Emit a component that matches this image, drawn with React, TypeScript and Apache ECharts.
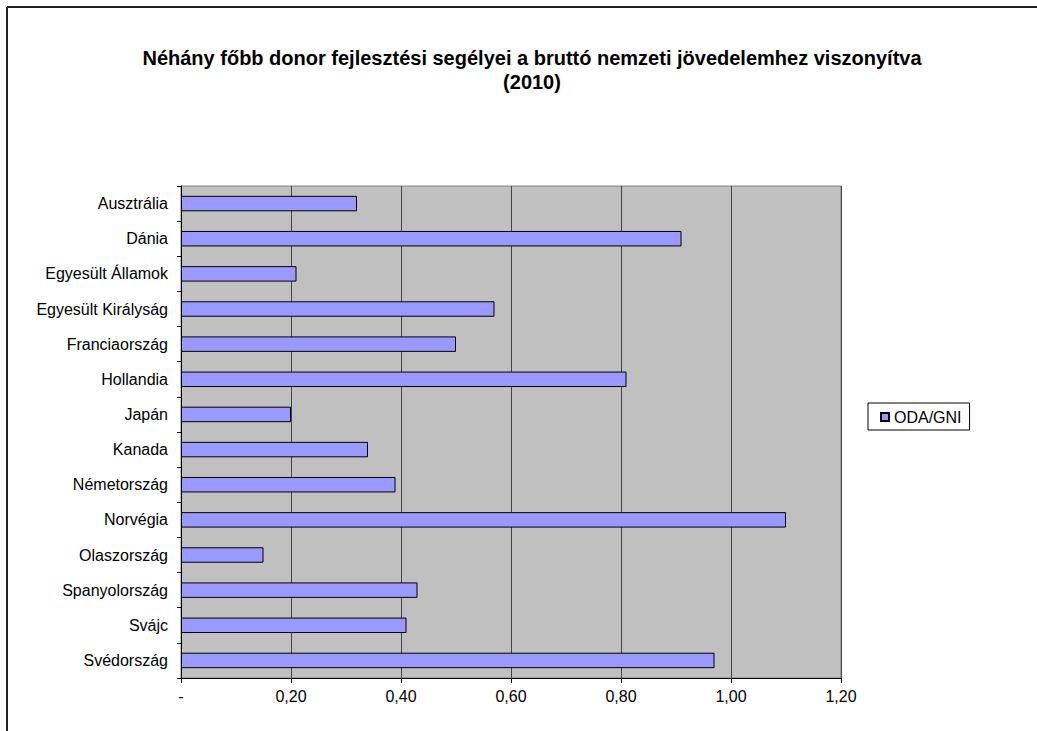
import React, { useEffect, useRef } from "react";
import * as echarts from "echarts";

const categories = [
  "Ausztrália",
  "Dánia",
  "Egyesült Államok",
  "Egyesült Királyság",
  "Franciaország",
  "Hollandia",
  "Japán",
  "Kanada",
  "Németország",
  "Norvégia",
  "Olaszország",
  "Spanyolország",
  "Svájc",
  "Svédország",
];
const odaGni = [0.32, 0.91, 0.21, 0.57, 0.5, 0.81, 0.2, 0.34, 0.39, 1.1, 0.15, 0.43, 0.41, 0.97];
const seriesName = "ODA/GNI";
const titleText = "Néhány főbb donor fejlesztési segélyei a bruttó nemzeti jövedelemhez viszonyítva\n(2010)";

const FONT = "'Liberation Sans', Arial, sans-serif";

export default function App() {
  const ref = useRef<HTMLDivElement>(null);
  useEffect(() => {
    if (!ref.current) return;
    const chart = echarts.init(ref.current, undefined, { renderer: "svg" });
    chart.setOption({
      animation: false,
      backgroundColor: "#fff",
      textStyle: { fontFamily: FONT },
      title: {
        text: titleText,
        left: 527,
        top: 41,
        textAlign: "center",
        textStyle: {
          fontFamily: FONT,
          fontSize: 20,
          fontWeight: "bold",
          color: "#000",
          lineHeight: 24,
        },
      },
      graphic: [
        {
          type: "line",
          shape: { x1: 7, y1: 7, x2: 1037, y2: 7 },
          style: { stroke: "#222", lineWidth: 2 },
          silent: true,
        },
        {
          type: "line",
          shape: { x1: 7, y1: 7, x2: 7, y2: 731 },
          style: { stroke: "#222", lineWidth: 2 },
          silent: true,
        },
      ],
      legend: {
        left: 868,
        top: 403,
        orient: "vertical",
        borderColor: "#000",
        borderWidth: 1,
        padding: [6, 8, 5, 12],
        itemWidth: 8,
        itemHeight: 8,
        itemGap: 4,
        icon: "rect",
        textStyle: { fontFamily: FONT, fontSize: 16, color: "#000" },
        data: [seriesName],
      },
      grid: {
        left: 181,
        top: 186,
        right: 196,
        bottom: 53,
        show: true,
        backgroundColor: "#C0C0C0",
        borderColor: "#808080",
        borderWidth: 1,
      },
      xAxis: {
        type: "value",
        min: 0,
        max: 1.2,
        interval: 0.2,
        axisLine: { show: true, lineStyle: { color: "#000", width: 1 } },
        axisTick: { show: true, length: 5, lineStyle: { color: "#000" } },
        splitLine: { show: true, lineStyle: { color: "#444", width: 1 } },
        axisLabel: {
          fontFamily: FONT,
          fontSize: 16,
          color: "#000",
          margin: 10,
          formatter: (v: number) => (v === 0 ? "-" : v.toFixed(2).replace(".", ",")),
        },
      },
      yAxis: {
        type: "category",
        inverse: true,
        data: categories,
        axisLine: { show: true, lineStyle: { color: "#000", width: 1 } },
        axisTick: { show: true, length: 4, lineStyle: { color: "#000" } },
        splitLine: { show: false },
        axisLabel: { fontFamily: FONT, fontSize: 16, color: "#000", margin: 13 },
      },
      series: [
        {
          name: seriesName,
          type: "bar",
          data: odaGni,
          barWidth: "44%",
          itemStyle: { color: "#9999FF", borderColor: "#000", borderWidth: 1 },
        },
      ],
    });
    return () => chart.dispose();
  }, []);
  return (
    <div
      ref={ref}
      style={{ position: "absolute", left: 0, top: 0, width: 1037, height: 731 }}
    />
  );
}
